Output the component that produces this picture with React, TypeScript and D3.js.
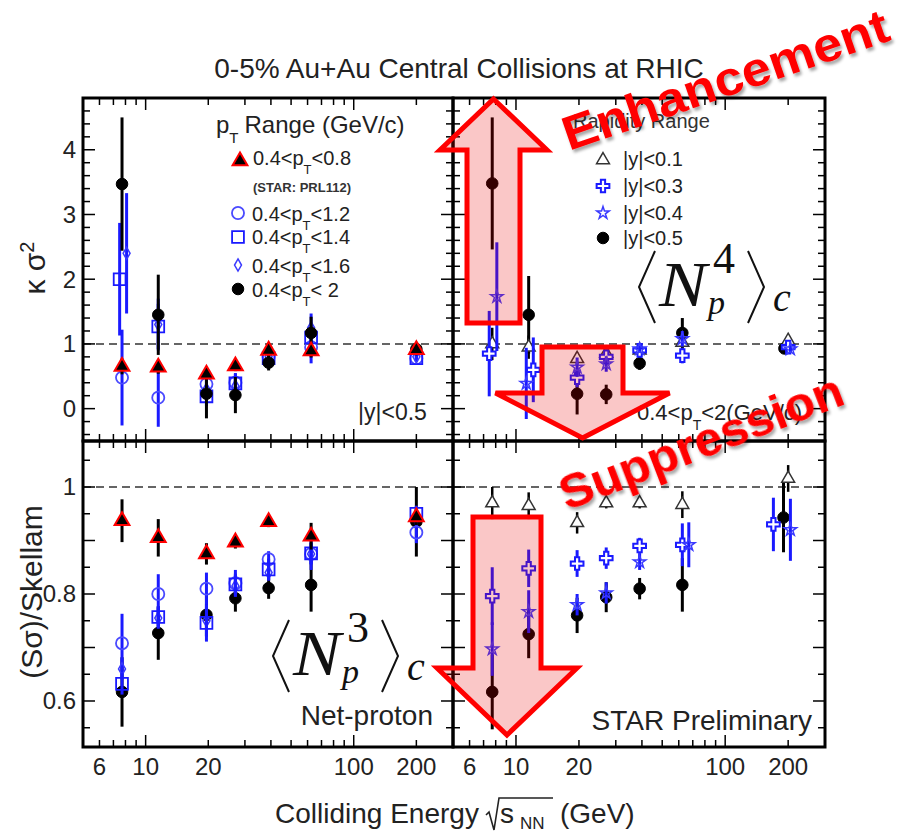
import React from 'react';
import * as d3 from 'd3';

const W = 899;
const H = 834;
const SANS = '"Liberation Sans", Arial, Helvetica, sans-serif';
const SERIF = '"Liberation Serif", "Times New Roman", serif';

// collision energies (GeV)
const energies = [7.7, 11.5, 19.6, 27, 39, 62.4, 200];
const xTickLabels = [6, 10, 20, 100, 200];
const kTickLabels = [0, 1, 2, 3, 4];
const sTickLabels = [0.6, 0.8, 1];

// kappa*sigma^2, pT ranges, |y|<0.5
const kPt08 = [0.65, 0.64, 0.53, 0.66, 0.9, 0.89, 0.91];
const kPt08Err = [0.12, 0.1, 0.08, 0.08, 0.08, 0.1, 0.06];
const kPt12 = [0.48, 0.17, 0.38, 0.4, 0.8, 0.95, 0.78];
const kPt12Err = [0.74, 0.45, 0.15, 0.15, 0.1, 0.25, 0.05];
const kPt14E = [7.5, 11.5, 19.6, 27, 39, 62.4, 200];
const kPt14 = [2.0, 1.27, 0.19, 0.39, 0.78, 1.1, 0.78];
const kPt14Err = [0.87, 0.35, 0.15, 0.15, 0.08, 0.2, 0.05];
const kPt16E = [8.1, 11.5, 19.6, 27, 39, 62.4, 200];
const kPt16 = [2.4, 1.3, 0.3, 0.35, 0.8, 1.25, 0.8];
const kPt16Err = [0.93, 0.4, 0.15, 0.15, 0.08, 0.22, 0.05];
const kPt20 = [3.47, 1.45, 0.23, 0.21, 0.71, 1.17, 0.92];
const kPt20Err = [1.03, 0.62, 0.38, 0.28, 0.12, 0.25, 0.08];

// kappa*sigma^2, rapidity ranges, 0.4<pT<2
const kY01 = [1.0, 0.95, 0.77, 0.85, 0.9, 1.02, 1.05];
const kY01Err = [0.25, 0.18, 0.1, 0.08, 0.06, 0.1, 0.05];
const kY03E = [7.45, 12.1, 19.6, 27, 39, 62.4, 200];
const kY03 = [0.85, 0.6, 0.48, 0.8, 0.9, 0.82, 0.95];
const kY03Err = [0.66, 0.5, 0.15, 0.12, 0.06, 0.12, 0.05];
const kY04E = [8.1, 11.2, 19.6, 27, 39, 62.4, 205];
const kY04 = [1.73, 0.39, 0.64, 0.69, 0.92, 1.08, 0.92];
const kY04Err = [0.84, 0.55, 0.15, 0.12, 0.06, 0.12, 0.05];
const kY05E = [7.7, 11.5, 19.6, 27, 39, 62.4, 192];
const kY05 = [3.48, 1.45, 0.23, 0.22, 0.7, 1.17, 0.93];
const kY05Err = [1.02, 0.6, 0.32, 0.15, 0.1, 0.23, 0.06];

// S*sigma/Skellam, pT ranges
const sPt08 = [0.937, 0.905, 0.875, 0.897, 0.935, 0.908, 0.944];
const sPt08Err = [0.04, 0.035, 0.02, 0.012, 0.01, 0.025, 0.015];
const sPt12 = [0.708, 0.8, 0.81, 0.82, 0.865, 0.875, 0.915];
const sPt12Err = [0.055, 0.037, 0.03, 0.025, 0.015, 0.03, 0.02];
const sPt14 = [0.632, 0.757, 0.746, 0.818, 0.846, 0.876, 0.95];
const sPt14Err = [0.02, 0.02, 0.035, 0.02, 0.02, 0.02, 0.015];
const sPt16 = [0.66, 0.755, 0.75, 0.815, 0.84, 0.875, 0.945];
const sPt16Err = [0.02, 0.02, 0.03, 0.02, 0.015, 0.02, 0.015];
const sPt20 = [0.617, 0.727, 0.761, 0.792, 0.811, 0.817, 0.935];
const sPt20Err = [0.065, 0.05, 0.04, 0.025, 0.02, 0.05, 0.065];

// S*sigma/Skellam, rapidity ranges
const sY01 = [0.97, 0.965, 0.933, 0.97, 0.97, 0.967, 1.016];
const sY01Err = [0.03, 0.025, 0.02, 0.01, 0.01, 0.025, 0.025];
const sY03E = [7.7, 11.5, 19.6, 27, 39, 62.4, 170];
const sY03 = [0.796, 0.848, 0.857, 0.867, 0.89, 0.892, 0.93];
const sY03Err = [0.054, 0.035, 0.025, 0.02, 0.015, 0.04, 0.05];
const sY04E = [7.7, 11.5, 19.6, 27, 39, 67, 205];
const sY04 = [0.697, 0.767, 0.78, 0.802, 0.86, 0.892, 0.92];
const sY04Err = [0.05, 0.04, 0.02, 0.02, 0.015, 0.042, 0.058];
const sY05E = [7.7, 11.5, 19.6, 27, 39, 62.4, 190];
const sY05 = [0.617, 0.725, 0.76, 0.794, 0.81, 0.817, 0.943];
const sY05Err = [0.07, 0.045, 0.033, 0.028, 0.02, 0.05, 0.065];

// layout
const frame = { left: 83, mid: 453, right: 825, top: 98, split: 441, bottom: 747 };
const xDomain = [5, 300];
const kDomain = [-0.5, 4.8];
const sDomain = [0.514, 1.086];

// annotation arrows (pixel geometry)
const arrows = [
  { cx: 493.5, tip: 99, base: 150, tail: 323, head: 53.5, shaft: 26.5 },
  { cx: 582.5, tip: 438, base: 393, tail: 347, head: 87, shaft: 40.5 },
  { cx: 507, tip: 735, base: 668, tail: 517, head: 70, shaft: 34 },
];

const BLUE = '#1a1aff';

const mk = {
  redTri: { type: d3.symbolTriangle, size: 95, fill: '#000', stroke: '#ff0000', sw: 2, err: '#000', errW: 3 },
  circle: { type: d3.symbolCircle, size: 115, fill: 'none', stroke: '#4a4aff', sw: 1.8, err: BLUE, errW: 3 },
  square: { type: d3.symbolSquare, size: 140, fill: 'none', stroke: BLUE, sw: 1.8, err: BLUE, errW: 3 },
  diamond: { type: d3.symbolDiamond, size: 42, fill: 'none', stroke: '#3a3aff', sw: 1.5, err: BLUE, errW: 3 },
  dot: { type: d3.symbolCircle, size: 105, fill: '#000', stroke: '#000', sw: 1, err: '#000', errW: 3 },
  openTri: { type: d3.symbolTriangle, size: 72, fill: '#fff', stroke: '#333', sw: 1.5, err: '#000', errW: 2.5 },
  cross: { type: d3.symbolCross, size: 90, fill: '#fff', stroke: BLUE, sw: 2, err: BLUE, errW: 3 },
  star: { type: d3.symbolStar, size: 48, fill: 'none', stroke: '#3a3aff', sw: 1.5, err: BLUE, errW: 3 },
};

const sym = (m: any) => d3.symbol().type(m.type).size(m.size)() as string;

function Points({ es, vs, errs, x, y, m }: any) {
  const d = sym(m);
  return (
    <g>
      {es.map((e: number, i: number) => (
        <line key={'e' + i} x1={x(e)} x2={x(e)} y1={y(vs[i] - errs[i])} y2={y(vs[i] + errs[i])}
          stroke={m.err} strokeWidth={m.errW} />
      ))}
      {es.map((e: number, i: number) => (
        <path key={'m' + i} d={d} transform={`translate(${x(e)},${y(vs[i])})`}
          fill={m.fill} stroke={m.stroke} strokeWidth={m.sw} />
      ))}
    </g>
  );
}

function Marker({ m, cx, cy }: any) {
  return <path d={sym(m)} transform={`translate(${cx},${cy})`} fill={m.fill} stroke={m.stroke} strokeWidth={m.sw} />;
}

const xMinor = [6, 7, 8, 9, 10, 20, 30, 40, 50, 60, 70, 80, 90, 100, 200];
const xMajor = [10, 100];

function Panel({ x, y, l, r, t, b, yTicks, isMajor, xLabels, yLabels, yFmt, children }: any) {
  return (
    <g>
      <line x1={l} x2={r} y1={y(1)} y2={y(1)} stroke="#333" strokeWidth={1.5} strokeDasharray="8 5" />
      {children}
      {xMinor.map((v) => {
        const len = xMajor.includes(v) ? 12 : 7;
        return (
          <g key={'x' + v}>
            <line x1={x(v)} x2={x(v)} y1={b} y2={b - len} stroke="#000" strokeWidth={1.5} />
            <line x1={x(v)} x2={x(v)} y1={t} y2={t + len} stroke="#000" strokeWidth={1.5} />
          </g>
        );
      })}
      {yTicks.map((v: number) => {
        const len = isMajor(v) ? 12 : 7;
        return (
          <g key={'y' + v}>
            <line x1={l} x2={l + len} y1={y(v)} y2={y(v)} stroke="#000" strokeWidth={1.5} />
            <line x1={r} x2={r - len} y1={y(v)} y2={y(v)} stroke="#000" strokeWidth={1.5} />
          </g>
        );
      })}
      <rect x={l} y={t} width={r - l} height={b - t} fill="none" stroke="#000" strokeWidth={3} />
      {xLabels && xTickLabels.map((v) => (
        <text key={'xl' + v} x={x(v)} y={b + 28} textAnchor="middle" fontSize={24} fill="#222">{v}</text>
      ))}
      {yLabels && yLabels.map((v: number) => (
        <text key={'yl' + v} x={l - 7} y={y(v)} dy="0.35em" textAnchor="end" fontSize={24} fill="#222">{yFmt(v)}</text>
      ))}
    </g>
  );
}

function PtText({ x, y, pre, post, size, sub, dy }: any) {
  return (
    <text x={x} y={y} fontSize={size} fill="#222">
      {pre}p<tspan dy={dy} fontSize={sub}>T</tspan><tspan dy={-dy}>{post}</tspan>
    </text>
  );
}

// <N_p^k>_c label, x = left edge of the bracket, y = baseline of N
function Cumulant({ x, y, order }: any) {
  const br = { stroke: '#111', strokeWidth: 2, fill: 'none' };
  const nx = x + 20;
  return (
    <g fill="#111">
      <polyline points={`${x + 16},${y - 55} ${x},${y - 19} ${x + 16},${y + 17}`} {...br} />
      <text x={nx} y={y} fontFamily={SERIF} fontStyle="italic" fontSize={64}
        transform={`translate(${nx},0) scale(1.12,1) translate(${-nx},0)`}>N</text>
      <text x={x + 74} y={y - 33} fontFamily={SERIF} fontSize={44}>{order}</text>
      <text x={x + 69} y={y + 8} fontFamily={SERIF} fontStyle="italic" fontSize={34}>p</text>
      <polyline points={`${x + 109},${y - 55} ${x + 125},${y - 19} ${x + 109},${y + 17}`} {...br} />
      <text x={x + 134} y={y + 5} fontFamily={SERIF} fontStyle="italic" fontSize={40}>c</text>
    </g>
  );
}

function arrowPoints(a: any) {
  const p = [
    [a.cx, a.tip], [a.cx + a.head, a.base], [a.cx + a.shaft, a.base], [a.cx + a.shaft, a.tail],
    [a.cx - a.shaft, a.tail], [a.cx - a.shaft, a.base], [a.cx - a.head, a.base],
  ];
  return p.map((q) => q.join(',')).join(' ');
}

export default function App() {
  const xL = d3.scaleLog().domain(xDomain).range([frame.left, frame.mid]);
  const xR = d3.scaleLog().domain(xDomain).range([frame.mid, frame.right]);
  const yK = d3.scaleLinear().domain(kDomain).range([frame.split, frame.top]);
  const yS = d3.scaleLinear().domain(sDomain).range([frame.bottom, frame.split]);

  const kTicks = d3.range(-4, 48, 2).map((v) => v / 10);
  const sTicks = d3.range(11, 22).map((v) => v * 0.05);
  const kMajor = (v: number) => Math.abs(v - Math.round(v)) < 1e-6;
  const sMajor = (v: number) => Math.abs(v * 10 - Math.round(v * 10)) < 1e-6;

  return (
    <svg width={W} height={H} style={{ position: 'absolute', left: 0, top: 0 }} fontFamily={SANS}>
      <defs>
        <filter id="shadow" x="-10%" y="-20%" width="130%" height="150%">
          <feDropShadow dx="2" dy="3" stdDeviation="1.5" floodColor="#000" floodOpacity="0.35" />
        </filter>
      </defs>
      <rect width={W} height={H} fill="#fff" />

      <text x={459} y={78} textAnchor="middle" fontSize={28} fill="#222">0-5% Au+Au Central Collisions at RHIC</text>

      {/* top-left */}
      <Panel x={xL} y={yK} l={frame.left} r={frame.mid} t={frame.top} b={frame.split}
        yTicks={kTicks} isMajor={kMajor} yLabels={kTickLabels} yFmt={(v: number) => String(v)}>
        <Points es={energies} vs={kPt12} errs={kPt12Err} x={xL} y={yK} m={mk.circle} />
        <Points es={kPt14E} vs={kPt14} errs={kPt14Err} x={xL} y={yK} m={mk.square} />
        <Points es={kPt16E} vs={kPt16} errs={kPt16Err} x={xL} y={yK} m={mk.diamond} />
        <Points es={energies} vs={kPt20} errs={kPt20Err} x={xL} y={yK} m={mk.dot} />
        <Points es={energies} vs={kPt08} errs={kPt08Err} x={xL} y={yK} m={mk.redTri} />
      </Panel>

      {/* top-right */}
      <Panel x={xR} y={yK} l={frame.mid} r={frame.right} t={frame.top} b={frame.split}
        yTicks={kTicks} isMajor={kMajor}>
        <Points es={kY05E} vs={kY05} errs={kY05Err} x={xR} y={yK} m={mk.dot} />
        <Points es={energies} vs={kY01} errs={kY01Err} x={xR} y={yK} m={mk.openTri} />
        <Points es={kY03E} vs={kY03} errs={kY03Err} x={xR} y={yK} m={mk.cross} />
        <Points es={kY04E} vs={kY04} errs={kY04Err} x={xR} y={yK} m={mk.star} />
      </Panel>

      {/* bottom-left */}
      <Panel x={xL} y={yS} l={frame.left} r={frame.mid} t={frame.split} b={frame.bottom}
        yTicks={sTicks} isMajor={sMajor} xLabels yLabels={sTickLabels} yFmt={(v: number) => String(v)}>
        <Points es={energies} vs={sPt20} errs={sPt20Err} x={xL} y={yS} m={mk.dot} />
        <Points es={energies} vs={sPt12} errs={sPt12Err} x={xL} y={yS} m={mk.circle} />
        <Points es={energies} vs={sPt16} errs={sPt16Err} x={xL} y={yS} m={mk.diamond} />
        <Points es={energies} vs={sPt14} errs={sPt14Err} x={xL} y={yS} m={mk.square} />
        <Points es={energies} vs={sPt08} errs={sPt08Err} x={xL} y={yS} m={mk.redTri} />
      </Panel>

      {/* bottom-right */}
      <Panel x={xR} y={yS} l={frame.mid} r={frame.right} t={frame.split} b={frame.bottom}
        yTicks={sTicks} isMajor={sMajor} xLabels>
        <Points es={sY05E} vs={sY05} errs={sY05Err} x={xR} y={yS} m={mk.dot} />
        <Points es={energies} vs={sY01} errs={sY01Err} x={xR} y={yS} m={mk.openTri} />
        <Points es={sY03E} vs={sY03} errs={sY03Err} x={xR} y={yS} m={mk.cross} />
        <Points es={sY04E} vs={sY04} errs={sY04Err} x={xR} y={yS} m={mk.star} />
      </Panel>

      {/* legend: pT ranges */}
      <text x={216} y={133} fontSize={24} fill="#222">
        p<tspan dy={10} fontSize={15}>T</tspan><tspan dy={-10} dx={6}>Range (GeV/c)</tspan>
      </text>
      <Marker m={mk.redTri} cx={240} cy={161} />
      <PtText x={253} y={165} pre="0.4<" post="<0.8" size={20} sub={13} dy={9} />
      <text x={253} y={192} fontSize={13} fontWeight="bold" fill="#333">(STAR: PRL112)</text>
      <Marker m={mk.circle} cx={238} cy={213} />
      <PtText x={252} y={221} pre="0.4<" post="<1.2" size={20} sub={13} dy={9} />
      <Marker m={mk.square} cx={238} cy={237} />
      <PtText x={252} y={244} pre="0.4<" post="<1.4" size={20} sub={13} dy={9} />
      <Marker m={mk.diamond} cx={238} cy={265} />
      <PtText x={252} y={273} pre="0.4<" post="<1.6" size={20} sub={13} dy={9} />
      <Marker m={mk.dot} cx={238} cy={289} />
      <PtText x={252} y={297} pre="0.4<" post="< 2" size={20} sub={13} dy={9} />
      <text x={358} y={420} fontSize={23} fill="#222">|y|&lt;0.5</text>

      {/* legend: rapidity ranges */}
      <text x={573} y={128} fontSize={20} fill="#333">Rapidity Range</text>
      <Marker m={mk.openTri} cx={603} cy={160} />
      <text x={623} y={166} fontSize={20} fill="#222">|y|&lt;0.1</text>
      <Marker m={mk.cross} cx={603} cy={186} />
      <text x={623} y={193} fontSize={20} fill="#222">|y|&lt;0.3</text>
      <Marker m={mk.star} cx={603} cy={213} />
      <text x={623} y={220} fontSize={20} fill="#222">|y|&lt;0.4</text>
      <Marker m={mk.dot} cx={603} cy={238} />
      <text x={623} y={245} fontSize={20} fill="#222">|y|&lt;0.5</text>
      <PtText x={637} y={420} pre="0.4<" post="<2(GeV/c)" size={22} sub={14} dy={10} />

      <text x={433} y={725} textAnchor="end" fontSize={28} fill="#222">Net-proton</text>
      <text x={812} y={730} textAnchor="end" fontSize={28} fill="#222">STAR Preliminary</text>

      {/* axis titles */}
      <text transform="translate(45,268) rotate(-90)" textAnchor="middle" fontSize={30} fill="#222">
        κ σ<tspan dy={-11} fontSize={20}>2</tspan>
      </text>
      <text transform="translate(42,592) rotate(-90)" textAnchor="middle" fontSize={30} fill="#222">(Sσ)/Skellam</text>
      <text x={275} y={823} fontSize={28} fill="#222">Colliding Energy</text>
      <path d="M486,815 L489,812 L494,830 L499,798 L553,798" fill="none" stroke="#222" strokeWidth={1.6} />
      <text x={500} y={823} fontSize={28} fill="#222">s</text>
      <text x={520} y={829} fontSize={17} fill="#222">NN</text>
      <text x={560} y={823} fontSize={28} fill="#222">(GeV)</text>

      {/* arrows */}
      {arrows.map((a, i) => (
        <polygon key={'a' + i} points={arrowPoints(a)} fill="rgb(230,0,0)" fillOpacity={0.22}
          stroke="#ff0000" strokeWidth={5} strokeLinejoin="miter" />
      ))}

      <Cumulant x={639} y={306} order="4" />
      <Cumulant x={273} y={675} order="3" />

      <g filter="url(#shadow)" fill="#ff0000" fontWeight="bold" fontSize={48}>
        <text transform="translate(569,151) rotate(-19)" textLength={342} lengthAdjust="spacingAndGlyphs">Enhancement</text>
        <text transform="translate(567,511) rotate(-21)" textLength={300} lengthAdjust="spacingAndGlyphs">Suppression</text>
      </g>
    </svg>
  );
}
